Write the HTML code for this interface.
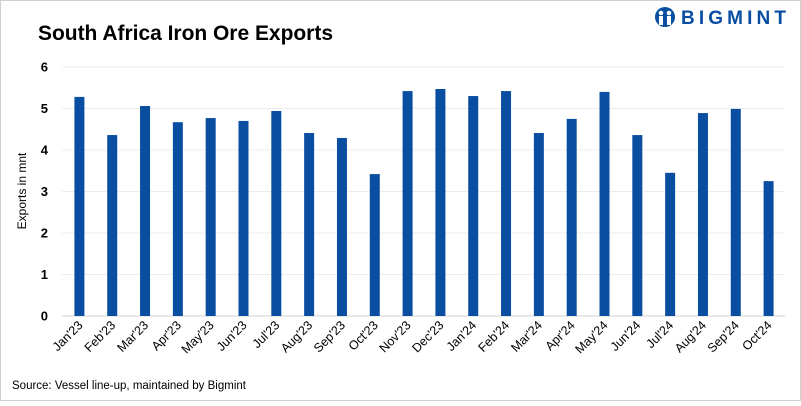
<!DOCTYPE html>
<html><head><meta charset="utf-8"><style>
html,body{margin:0;padding:0;background:#fff;}
body{width:801px;height:401px;overflow:hidden;font-family:"Liberation Sans",sans-serif;}
</style></head><body>
<svg id="chart" width="801" height="401" xmlns="http://www.w3.org/2000/svg" font-family="Liberation Sans, sans-serif">
<rect x="0.5" y="0.5" width="800" height="400" fill="#fff" stroke="#d0d0d0"/>
<text x="38" y="40" font-size="21" font-weight="bold" fill="#000" textLength="295">South Africa Iron Ore Exports</text>
<g>
<circle cx="665" cy="17" r="10" fill="#0a4ea2"/>
<circle cx="661" cy="13" r="2.3" fill="#fff"/><circle cx="669" cy="13" r="2.3" fill="#fff"/>
<rect x="659" y="16" width="4" height="9" fill="#fff"/><rect x="667" y="16" width="4" height="9" fill="#fff"/>
<text x="681" y="24" font-size="19" font-weight="bold" fill="#0a4ea2" textLength="105">BIGMINT</text>
</g>
<text transform="translate(26,191) rotate(-90)" text-anchor="middle" font-size="12" fill="#000">Exports in mnt</text>
<g id="grid"></g><g id="bars"></g><g id="xlabels"></g>
<text x="12" y="389" font-size="11.5" fill="#000">Source: Vessel line-up, maintained by Bigmint</text>
</svg>
<script>
const categories=["Jan'23","Feb'23","Mar'23","Apr'23","May'23","Jun'23","Jul'23","Aug'23","Sep'23","Oct'23","Nov'23","Dec'23","Jan'24","Feb'24","Mar'24","Apr'24","May'24","Jun'24","Jul'24","Aug'24","Sep'24","Oct'24"];
const exportsValues=[5.28,4.36,5.06,4.67,4.77,4.70,4.94,4.41,4.29,3.42,5.42,5.47,5.30,5.42,4.41,4.75,5.40,4.36,3.45,4.89,4.99,3.25];
const yTicks=[0,1,2,3,4,5,6];
const NS="http://www.w3.org/2000/svg";
const y0=316,yTop=67,yMax=6,xL=63,xR=785;
const y=v=>y0-(v/yMax)*(y0-yTop);
const step=(xR-xL)/categories.length;
const x=i=>xL+step*(i+0.5);
const grid=document.getElementById('grid'),bars=document.getElementById('bars'),xl=document.getElementById('xlabels');
yTicks.forEach(t=>{
 const l=document.createElementNS(NS,'line');
 l.setAttribute('x1',xL-1);l.setAttribute('x2',xR);l.setAttribute('y1',y(t));l.setAttribute('y2',y(t));
 l.setAttribute('stroke',t===0?'#d0d0d0':'#ececec');l.setAttribute('stroke-width',1);
 
 
 grid.appendChild(l);
 const tx=document.createElementNS(NS,'text');
 tx.setAttribute('x',48);tx.setAttribute('y',y(t)+4.5);tx.setAttribute('text-anchor','end');
 tx.setAttribute('font-size','13');tx.setAttribute('font-weight','bold');tx.textContent=t;
 
 
 grid.appendChild(tx);
});
categories.forEach((c,i)=>{
 const r=document.createElementNS(NS,'rect');
 const v=exportsValues[i];
 r.setAttribute('x',x(i)-5);r.setAttribute('width',10);
 r.setAttribute('y',y(v));r.setAttribute('height',y0-y(v));r.setAttribute('fill','#0a4ea2');
 
 
 bars.appendChild(r);
 const t=document.createElementNS(NS,'text');
 t.setAttribute('transform','translate('+(x(i)+4)+','+(y0+10)+') rotate(-45)');
 t.setAttribute('text-anchor','end');t.setAttribute('font-size','12.5');t.textContent=c;
 
 
 xl.appendChild(t);
});
</script>
</body></html>
